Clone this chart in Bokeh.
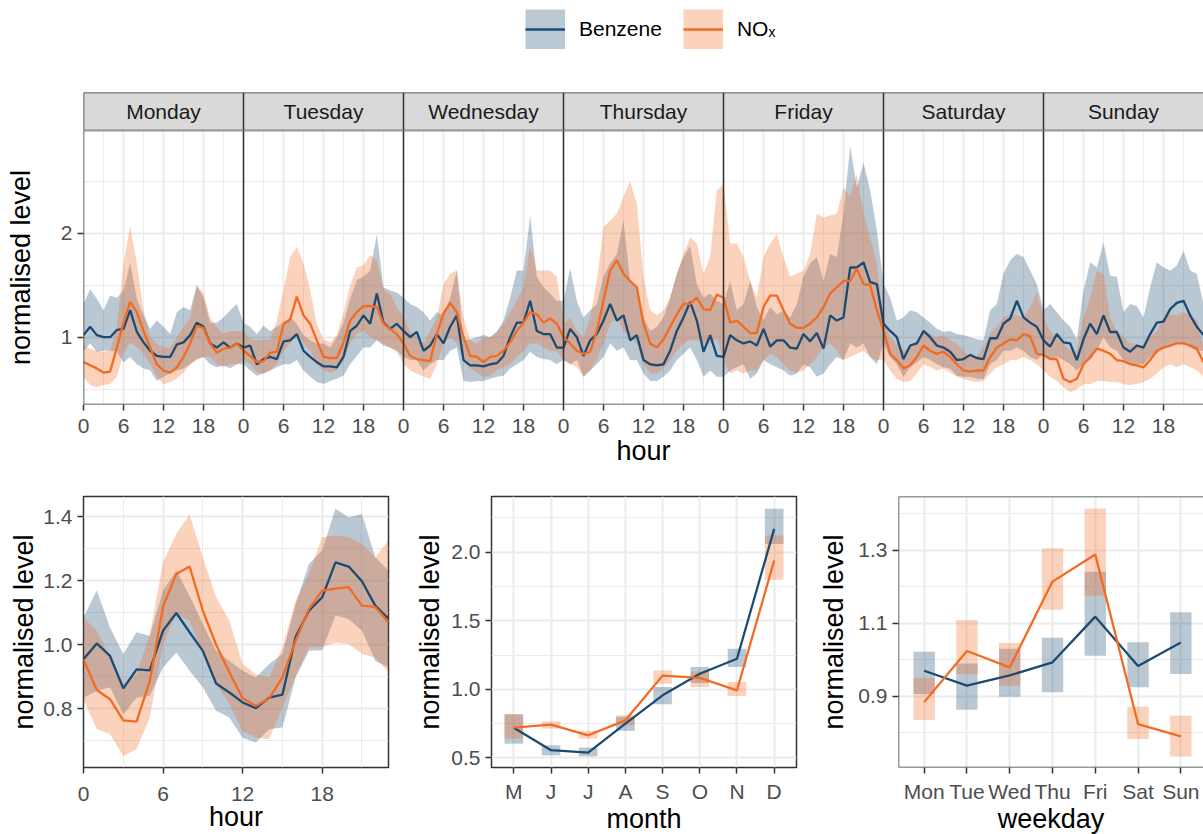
from bokeh.plotting import figure
from bokeh.layouts import column, row
from bokeh.models import Range1d, FixedTicker, Span, Legend, LegendItem, PrintfTickFormatter
from bokeh.embed import file_html
from bokeh.resources import INLINE
from bokeh.core.properties import value

FONT = "Liberation Sans"
BENZ = "#1B4A72"
NOX = "#F26B22"
BENZ_KEY = "#BBC9D5"
NOX_KEY = "#FBD3BD"
BORDER = "#333333"
ALPHA = 0.3

# ---------------- data ----------------
days = ["Monday", "Tuesday", "Wednesday", "Thursday", "Friday", "Saturday", "Sunday"]
hours = list(range(24))

benz_mean = [
    [1.02, 1.10, 1.02, 1.00, 1.00, 1.07, 1.08, 1.26, 1.05, 0.95, 0.87, 0.82, 0.81, 0.81, 0.93, 0.95, 1.02, 1.14, 1.10, 0.94, 0.90, 0.95, 0.90, 0.94],
    [0.90, 0.92, 0.74, 0.79, 0.81, 0.79, 0.96, 0.97, 1.03, 0.87, 0.81, 0.76, 0.72, 0.72, 0.71, 0.81, 1.06, 1.11, 1.21, 1.13, 1.42, 1.14, 1.08, 1.13],
    [1.06, 1.00, 1.05, 0.87, 0.92, 1.03, 0.94, 1.10, 1.21, 0.78, 0.73, 0.73, 0.72, 0.74, 0.75, 0.82, 1.00, 1.14, 1.14, 1.35, 1.06, 1.03, 1.03, 0.90],
    [0.90, 1.08, 1.00, 0.82, 0.97, 1.03, 1.16, 1.32, 1.16, 1.21, 0.97, 1.02, 0.78, 0.74, 0.73, 0.74, 0.87, 1.06, 1.19, 1.34, 1.16, 0.86, 1.02, 0.82],
    [0.81, 1.02, 0.97, 0.94, 0.96, 0.92, 1.08, 0.91, 0.97, 0.97, 0.90, 0.89, 1.03, 0.96, 1.04, 0.89, 1.21, 1.16, 1.19, 1.67, 1.67, 1.72, 1.53, 1.51],
    [1.13, 1.06, 1.00, 0.79, 0.92, 0.94, 1.06, 1.00, 0.92, 0.90, 0.86, 0.78, 0.79, 0.83, 0.80, 0.79, 0.99, 0.99, 1.13, 1.18, 1.35, 1.19, 1.14, 1.10],
    [0.97, 0.91, 1.03, 0.95, 0.94, 0.78, 0.98, 1.13, 1.03, 1.21, 1.05, 1.05, 0.90, 0.86, 0.92, 0.90, 1.03, 1.14, 1.15, 1.27, 1.33, 1.35, 1.21, 1.10],
]
benz_hi = [
    [1.32, 1.46, 1.37, 1.26, 1.40, 1.38, 1.45, 1.71, 1.37, 1.21, 1.08, 1.16, 1.10, 1.03, 1.24, 1.29, 1.26, 1.50, 1.38, 1.14, 1.14, 1.19, 1.26, 1.32],
    [1.14, 1.10, 1.03, 1.11, 1.06, 1.10, 1.14, 1.19, 1.13, 1.02, 0.97, 0.94, 0.94, 0.90, 1.00, 1.14, 1.37, 1.55, 1.58, 1.64, 1.99, 1.48, 1.45, 1.43],
    [1.38, 1.32, 1.29, 1.24, 1.16, 1.24, 1.21, 1.38, 1.64, 0.97, 0.98, 1.00, 1.02, 1.00, 1.05, 1.16, 1.38, 1.64, 1.64, 2.17, 1.58, 1.48, 1.42, 1.35],
    [1.35, 1.66, 1.35, 1.19, 1.26, 1.32, 1.58, 1.71, 1.80, 2.12, 1.54, 1.48, 1.19, 1.06, 1.10, 1.19, 1.38, 1.61, 1.77, 1.88, 1.51, 1.38, 1.42, 1.35],
    [1.32, 1.54, 1.26, 1.32, 1.54, 1.29, 1.16, 1.29, 1.22, 1.26, 1.19, 1.32, 1.58, 1.71, 1.77, 1.54, 1.80, 1.77, 2.19, 2.84, 2.44, 2.68, 2.41, 2.03],
    [1.51, 1.38, 1.16, 1.19, 1.26, 1.24, 1.19, 1.14, 1.08, 1.05, 1.06, 1.03, 1.02, 1.00, 0.98, 0.97, 1.26, 1.32, 1.61, 1.74, 1.80, 1.77, 1.64, 1.51],
    [1.26, 1.32, 1.24, 1.16, 1.10, 0.98, 1.45, 1.72, 1.67, 1.91, 1.59, 1.58, 1.24, 1.32, 1.30, 1.19, 1.48, 1.72, 1.67, 1.64, 1.69, 1.83, 1.64, 1.61],
]
benz_lo = [
    [0.87, 0.94, 0.86, 0.87, 0.87, 0.86, 0.76, 0.81, 0.74, 0.70, 0.68, 0.58, 0.62, 0.65, 0.68, 0.70, 0.74, 0.79, 0.81, 0.74, 0.71, 0.73, 0.70, 0.74],
    [0.74, 0.68, 0.63, 0.65, 0.68, 0.71, 0.74, 0.74, 0.78, 0.68, 0.62, 0.57, 0.55, 0.58, 0.60, 0.63, 0.74, 0.82, 0.90, 0.90, 0.97, 0.92, 0.90, 0.87],
    [0.81, 0.78, 0.78, 0.68, 0.74, 0.78, 0.78, 0.87, 0.90, 0.58, 0.57, 0.58, 0.58, 0.60, 0.62, 0.63, 0.70, 0.74, 0.78, 0.86, 0.81, 0.79, 0.78, 0.74],
    [0.78, 0.74, 0.78, 0.62, 0.68, 0.74, 0.81, 0.94, 0.87, 0.90, 0.78, 0.78, 0.65, 0.58, 0.58, 0.62, 0.68, 0.78, 0.84, 0.90, 0.78, 0.62, 0.68, 0.62],
    [0.62, 0.68, 0.71, 0.74, 0.60, 0.65, 0.78, 0.74, 0.71, 0.68, 0.63, 0.65, 0.74, 0.71, 0.62, 0.65, 0.74, 0.81, 0.78, 0.94, 0.90, 0.94, 0.81, 0.74],
    [0.94, 0.81, 0.74, 0.62, 0.71, 0.76, 0.81, 0.78, 0.74, 0.71, 0.70, 0.63, 0.62, 0.62, 0.60, 0.60, 0.74, 0.78, 0.87, 0.87, 0.90, 0.87, 0.81, 0.78],
    [0.84, 0.78, 0.81, 0.78, 0.74, 0.68, 0.74, 0.78, 0.87, 1.00, 0.90, 0.87, 0.78, 0.74, 0.74, 0.74, 0.81, 0.84, 0.90, 0.90, 0.94, 0.94, 0.90, 0.87],
]
nox_mean = [
    [0.76, 0.73, 0.70, 0.66, 0.67, 0.90, 1.14, 1.34, 1.24, 1.06, 0.90, 0.74, 0.68, 0.66, 0.71, 0.81, 0.94, 1.11, 1.09, 0.94, 0.85, 0.89, 0.90, 0.94],
    [0.87, 0.82, 0.76, 0.77, 0.85, 0.86, 1.13, 1.17, 1.39, 1.21, 1.13, 0.97, 0.81, 0.80, 0.80, 0.95, 1.16, 1.24, 1.30, 1.30, 1.29, 1.13, 1.08, 1.03],
    [0.94, 0.82, 0.79, 0.78, 0.77, 1.03, 1.23, 1.33, 1.24, 1.00, 0.82, 0.81, 0.76, 0.81, 0.82, 0.87, 0.95, 1.06, 1.14, 1.24, 1.22, 1.14, 1.18, 1.13],
    [1.00, 0.94, 0.87, 0.84, 0.86, 1.06, 1.35, 1.64, 1.74, 1.61, 1.54, 1.48, 1.13, 0.94, 0.90, 0.98, 1.10, 1.22, 1.32, 1.32, 1.38, 1.27, 1.26, 1.41],
    [1.38, 1.14, 1.16, 1.10, 1.04, 1.04, 1.29, 1.40, 1.40, 1.26, 1.13, 1.09, 1.09, 1.13, 1.19, 1.29, 1.42, 1.48, 1.54, 1.54, 1.66, 1.51, 1.50, 1.26],
    [1.06, 0.84, 0.78, 0.70, 0.73, 0.81, 0.92, 0.87, 0.84, 0.86, 0.81, 0.74, 0.68, 0.67, 0.68, 0.68, 0.81, 0.90, 0.94, 0.98, 0.97, 1.03, 1.01, 0.84],
    [0.83, 0.79, 0.79, 0.60, 0.57, 0.60, 0.74, 0.81, 0.89, 0.87, 0.84, 0.78, 0.77, 0.74, 0.73, 0.71, 0.78, 0.87, 0.90, 0.92, 0.94, 0.94, 0.92, 0.89],
]
nox_hi = [
    [0.92, 0.89, 0.87, 0.86, 0.87, 1.10, 1.71, 2.07, 1.71, 1.26, 1.00, 0.94, 0.90, 0.90, 1.00, 1.10, 1.19, 1.50, 1.42, 1.19, 1.10, 1.03, 1.06, 1.06],
    [1.06, 0.98, 0.97, 0.97, 0.98, 1.16, 1.45, 1.77, 1.87, 1.71, 1.45, 1.13, 0.98, 0.95, 1.02, 1.24, 1.50, 1.67, 1.69, 1.79, 1.74, 1.46, 1.42, 1.29],
    [1.19, 1.06, 1.00, 0.94, 1.06, 1.19, 1.51, 1.61, 1.64, 1.19, 0.97, 0.94, 1.00, 1.00, 1.06, 1.13, 1.24, 1.35, 1.48, 1.87, 1.64, 1.64, 1.64, 1.58],
    [1.13, 1.19, 1.06, 1.00, 1.19, 1.54, 2.06, 2.12, 2.19, 2.35, 2.50, 2.28, 1.58, 1.26, 1.21, 1.26, 1.38, 1.61, 1.80, 1.96, 1.90, 1.61, 1.77, 2.41],
    [2.47, 1.90, 1.90, 1.77, 1.54, 1.38, 1.77, 1.90, 1.99, 1.77, 1.58, 1.61, 1.64, 1.80, 2.19, 2.15, 2.17, 2.19, 2.44, 2.35, 2.57, 2.19, 1.96, 1.71],
    [1.19, 1.00, 0.94, 0.87, 0.90, 0.97, 1.06, 1.03, 1.00, 1.02, 0.97, 0.94, 0.87, 0.81, 0.82, 0.90, 1.03, 1.10, 1.19, 1.22, 1.21, 1.19, 1.29, 1.43],
    [1.19, 1.06, 1.00, 0.94, 0.87, 0.87, 1.19, 1.38, 1.64, 1.61, 1.19, 1.06, 1.00, 0.94, 0.94, 0.90, 1.00, 1.06, 1.19, 1.22, 1.21, 1.24, 1.21, 1.16],
]
nox_lo = [
    [0.62, 0.54, 0.52, 0.54, 0.55, 0.62, 0.85, 0.95, 0.90, 0.84, 0.74, 0.62, 0.55, 0.57, 0.60, 0.66, 0.74, 0.78, 0.81, 0.81, 0.74, 0.71, 0.74, 0.74],
    [0.78, 0.74, 0.66, 0.65, 0.68, 0.74, 0.87, 0.94, 1.03, 0.94, 0.87, 0.74, 0.68, 0.66, 0.68, 0.78, 0.94, 1.03, 1.06, 1.00, 0.97, 0.94, 0.90, 0.86],
    [0.74, 0.68, 0.65, 0.62, 0.60, 0.74, 0.94, 1.00, 0.94, 0.78, 0.70, 0.66, 0.62, 0.63, 0.68, 0.71, 0.74, 0.81, 0.87, 0.94, 0.94, 0.90, 0.87, 0.86],
    [0.78, 0.74, 0.71, 0.62, 0.68, 0.78, 0.94, 1.13, 1.19, 1.06, 1.00, 0.94, 0.74, 0.65, 0.65, 0.70, 0.78, 0.87, 0.94, 0.97, 0.97, 0.94, 0.94, 1.00],
    [0.78, 0.65, 0.68, 0.65, 0.68, 0.68, 0.78, 0.84, 0.81, 0.74, 0.68, 0.66, 0.68, 0.74, 0.81, 0.90, 0.94, 0.87, 0.78, 0.81, 0.84, 0.87, 0.81, 0.78],
    [0.78, 0.68, 0.60, 0.57, 0.58, 0.65, 0.74, 0.71, 0.68, 0.70, 0.66, 0.62, 0.60, 0.58, 0.57, 0.58, 0.65, 0.71, 0.74, 0.78, 0.78, 0.81, 0.78, 0.74],
    [0.68, 0.62, 0.58, 0.52, 0.47, 0.50, 0.55, 0.55, 0.58, 0.58, 0.57, 0.57, 0.55, 0.54, 0.55, 0.57, 0.60, 0.65, 0.71, 0.74, 0.71, 0.74, 0.71, 0.68],
]

# hour of day (all days)
benz_hour = [0.955, 1.004, 0.965, 0.864, 0.923, 0.920, 1.044, 1.099, 1.039, 0.981, 0.879, 0.851, 0.820, 0.802, 0.835, 0.844, 1.025, 1.106, 1.148, 1.257, 1.244, 1.198, 1.122, 1.081]
benz_hour_hi = [1.085, 1.169, 1.054, 0.971, 1.039, 1.028, 1.169, 1.231, 1.153, 1.065, 0.981, 0.950, 0.919, 0.898, 0.940, 0.971, 1.127, 1.252, 1.294, 1.424, 1.398, 1.408, 1.273, 1.231]
benz_hour_lo = [0.835, 0.856, 0.867, 0.783, 0.835, 0.841, 0.929, 0.976, 0.919, 0.867, 0.794, 0.773, 0.710, 0.695, 0.736, 0.742, 0.898, 0.981, 0.983, 1.091, 1.080, 1.044, 0.950, 0.929]
nox_hour = [0.955, 0.859, 0.830, 0.764, 0.760, 0.887, 1.119, 1.221, 1.244, 1.106, 1.000, 0.914, 0.833, 0.809, 0.833, 0.898, 1.013, 1.112, 1.169, 1.175, 1.180, 1.122, 1.118, 1.070]
nox_hour_hi = [1.085, 1.044, 0.960, 0.877, 0.908, 1.033, 1.257, 1.346, 1.406, 1.273, 1.148, 1.075, 0.940, 0.908, 0.898, 0.992, 1.137, 1.221, 1.335, 1.341, 1.335, 1.315, 1.273, 1.325]
nox_hour_lo = [0.830, 0.736, 0.721, 0.653, 0.674, 0.773, 1.002, 1.096, 1.075, 0.971, 0.877, 0.815, 0.731, 0.710, 0.705, 0.804, 0.903, 0.992, 0.992, 1.007, 1.002, 0.971, 0.960, 0.914]

# month
months = ["M", "J", "J", "A", "S", "O", "N", "D"]
benz_month = [0.720, 0.556, 0.539, 0.750, 0.956, 1.114, 1.223, 2.170]
benz_month_lo = [0.604, 0.519, 0.512, 0.697, 0.891, 1.046, 1.163, 2.060]
benz_month_hi = [0.818, 0.592, 0.575, 0.799, 1.017, 1.163, 1.296, 2.316]
nox_month = [0.721, 0.743, 0.665, 0.774, 1.100, 1.083, 0.993, 1.939]
nox_month_lo = [0.641, 0.714, 0.641, 0.738, 1.041, 1.017, 0.951, 1.799]
nox_month_hi = [0.818, 0.767, 0.697, 0.811, 1.138, 1.131, 1.053, 2.121]

# weekday
weekdays = ["Mon", "Tue", "Wed", "Thu", "Fri", "Sat", "Sun"]
benz_wd = [0.970, 0.929, 0.957, 0.993, 1.118, 0.983, 1.047]
benz_wd_lo = [0.906, 0.863, 0.899, 0.911, 1.011, 0.925, 0.961]
benz_wd_hi = [1.022, 0.990, 1.030, 1.060, 1.241, 1.048, 1.130]
nox_wd = [0.884, 1.024, 0.979, 1.214, 1.288, 0.824, 0.790]
nox_wd_lo = [0.835, 0.961, 0.929, 1.137, 1.175, 0.783, 0.735]
nox_wd_hi = [0.950, 1.109, 1.046, 1.305, 1.414, 0.872, 0.847]


# ---------------- helpers ----------------
def style(p, xlabel, ylabel, ylab_standoff, xlab_standoff, xtick_standoff):
    p.outline_line_color = BORDER
    p.outline_line_width = 1.5
    p.background_fill_color = "white"
    p.border_fill_color = "white"
    p.grid.grid_line_color = "#EBEBEB"
    p.grid.grid_line_width = 2
    p.grid.minor_grid_line_color = "#EBEBEB"
    p.grid.minor_grid_line_width = 1
    for ax in p.axis:
        ax.axis_line_color = None
        ax.major_tick_line_color = BORDER
        ax.major_tick_line_width = 1.5
        ax.major_tick_in = 0
        ax.major_tick_out = 6
        ax.minor_tick_line_color = None
        ax.major_label_text_font = FONT
        ax.major_label_text_font_size = "21px"
        ax.major_label_text_color = "#4D4D4D"
        ax.major_label_standoff = 5
        ax.axis_label_text_font = FONT
        ax.axis_label_text_font_size = "27px"
        ax.axis_label_text_font_style = "normal"
        ax.axis_label_text_color = "black"
    p.xaxis.axis_label = xlabel
    p.yaxis.axis_label = ylabel
    p.yaxis.axis_label_standoff = ylab_standoff
    p.xaxis.axis_label_standoff = xlab_standoff
    p.xaxis.major_label_standoff = xtick_standoff


def open_right(p, xr, yr):
    """Panel border on left, top and bottom only (the panel runs off the right edge)."""
    p.outline_line_color = None
    p.add_layout(Span(location=xr.start, dimension="height", line_color=BORDER, line_width=1.5))
    p.add_layout(Span(location=yr.start, dimension="width", line_color=BORDER, line_width=1.5))
    p.add_layout(Span(location=yr.end, dimension="width", line_color=BORDER, line_width=1.5))


# ---------------- legend ----------------
pl = figure(width=1203, height=92, x_range=Range1d(0, 1), y_range=Range1d(0, 1),
            x_axis_location=None, y_axis_location=None, min_border=0,
            toolbar_location=None, output_backend="svg", outline_line_color=None)
pl.grid.visible = False
# off-frame key renderers (only used to draw the legend keys)
rb_box = pl.quad(left=[5], right=[6], top=[5], bottom=[6], fill_color=BENZ_KEY,
                 line_color=BENZ_KEY, line_width=8, line_join="miter")
rb_line = pl.line(x=[5, 6], y=[5, 5], line_color=BENZ, line_width=2.5)
rn_box = pl.quad(left=[5], right=[6], top=[5], bottom=[6], fill_color=NOX_KEY,
                 line_color=NOX_KEY, line_width=8, line_join="miter")
rn_line = pl.line(x=[5, 6], y=[5, 5], line_color=NOX, line_width=2.5)
legend = Legend(items=[LegendItem(label="Benzene", renderers=[rb_box, rb_line]),
                       LegendItem(label="NO\u2093", renderers=[rn_box, rn_line])],
                orientation="horizontal", location=(442, 43),
                glyph_width=40, glyph_height=40, label_standoff=14, spacing=21,
                padding=0, margin=0, border_line_color=None, background_fill_alpha=0,
                label_text_font=FONT, label_text_font_size="21px", label_text_color="black")
pl.add_layout(legend)

# ---------------- strips ----------------
ndays = len(days)
xr_top = Range1d(0, 24 * ndays)
yr_strip = Range1d(0, 1)
ps = figure(width=1203, height=38, x_range=xr_top, y_range=yr_strip,
            x_axis_location=None, y_axis_location=None, min_border_left=83,
            min_border_right=0, min_border_top=0, min_border_bottom=0,
            toolbar_location=None, output_backend="svg")
ps.grid.visible = False
starts = [i * 24 for i in range(ndays)]
ps.quad(left=starts, right=[s + 24 for s in starts], bottom=[0] * ndays, top=[1] * ndays,
        fill_color="#D9D9D9", line_color=None)
ps.text(x=[s + 12 for s in starts], y=[0.5] * ndays, text=days, text_align="center",
        text_baseline="middle", text_font=value(FONT), text_font_size="21px", text_color="#1A1A1A")
open_right(ps, xr_top, yr_strip)
for s in starts[1:]:
    ps.add_layout(Span(location=s, dimension="height", line_color=BORDER, line_width=1.5))

# ---------------- day x hour ----------------
xs, bm, bh, bl, nm, nh, nl = [], [], [], [], [], [], []
for d in range(ndays):
    for h in hours:
        xs.append(d * 24 + h)
        bm.append(benz_mean[d][h]); bh.append(benz_hi[d][h]); bl.append(benz_lo[d][h])
        nm.append(nox_mean[d][h]); nh.append(nox_hi[d][h]); nl.append(nox_lo[d][h])
# cyclic wrap to the end of the last panel
xs.append(24 * ndays)
bm.append(benz_mean[0][0]); bh.append(benz_hi[0][0]); bl.append(benz_lo[0][0])
nm.append(nox_mean[0][0]); nh.append(nox_hi[0][0]); nl.append(nox_lo[0][0])

yr_top = Range1d(0.353, 2.987)
ptop = figure(frame_width=1120, frame_height=274, x_range=xr_top, y_range=yr_top,
              min_border_left=83, min_border_right=0, min_border_top=0, min_border_bottom=76,
              toolbar_location=None, output_backend="svg")
major_x = [d * 24 + h for d in range(ndays) for h in (0, 6, 12, 18)]
minor_x = [d * 24 + h for d in range(ndays) for h in (3, 9, 15, 21)]
tk = FixedTicker(ticks=major_x, minor_ticks=minor_x)
ptop.xaxis.ticker = tk
ptop.xgrid.ticker = tk
ptop.xaxis.major_label_overrides = {t: str(t % 24) for t in major_x}
yt = FixedTicker(ticks=[1, 2], minor_ticks=[0.5, 1.5, 2.5])
ptop.yaxis.ticker = yt
ptop.ygrid.ticker = yt
style(ptop, "hour", "normalised level", 22, 0, 8)
ptop.varea(x=xs, y1=bl, y2=bh, fill_color=BENZ, fill_alpha=ALPHA)
ptop.varea(x=xs, y1=nl, y2=nh, fill_color=NOX, fill_alpha=ALPHA)
ptop.line(xs, bm, line_color=BENZ, line_width=2.3)
ptop.line(xs, nm, line_color=NOX, line_width=2.3)
for s in starts[1:]:
    ptop.add_layout(Span(location=s, dimension="height", line_color=BORDER, line_width=1.5))
open_right(ptop, xr_top, yr_top)

# ---------------- bottom panels ----------------
def bottom_fig(left, right, xr, yr):
    return figure(frame_width=305, frame_height=271, x_range=xr, y_range=yr,
                  min_border_left=left, min_border_right=right, min_border_top=16,
                  min_border_bottom=67, toolbar_location=None, output_backend="svg")

p1 = bottom_fig(83, 12, Range1d(0, 23), Range1d(0.617, 1.4625))
t = FixedTicker(ticks=[0, 6, 12, 18], minor_ticks=[3, 9, 15, 21])
p1.xaxis.ticker = t; p1.xgrid.ticker = t
t = FixedTicker(ticks=[0.8, 1.0, 1.2, 1.4], minor_ticks=[0.7, 0.9, 1.1, 1.3])
p1.yaxis.ticker = t; p1.ygrid.ticker = t
p1.yaxis.formatter = PrintfTickFormatter(format="%.1f")
style(p1, "hour", "normalised level", 1, -2, 13)
p1.varea(x=hours, y1=benz_hour_lo, y2=benz_hour_hi, fill_color=BENZ, fill_alpha=ALPHA)
p1.varea(x=hours, y1=nox_hour_lo, y2=nox_hour_hi, fill_color=NOX, fill_alpha=ALPHA)
p1.line(hours, benz_hour, line_color=BENZ, line_width=2.3)
p1.line(hours, nox_hour, line_color=NOX, line_width=2.3)

mx = list(range(1, len(months) + 1))
p2 = bottom_fig(91, 12, Range1d(0.4, 8.6), Range1d(0.43, 2.406))
t = FixedTicker(ticks=mx, minor_ticks=[])
p2.xaxis.ticker = t; p2.xgrid.ticker = t
p2.xaxis.major_label_overrides = {i: m for i, m in zip(mx, months)}
t = FixedTicker(ticks=[0.5, 1.0, 1.5, 2.0], minor_ticks=[0.75, 1.25, 1.75, 2.25])
p2.yaxis.ticker = t; p2.ygrid.ticker = t
p2.yaxis.formatter = PrintfTickFormatter(format="%.1f")
style(p2, "month", "normalised level", 3, -2, 6)
p2.vbar(x=mx, width=0.5, bottom=benz_month_lo, top=benz_month_hi, fill_color=BENZ, fill_alpha=ALPHA, line_color=None)
p2.vbar(x=mx, width=0.5, bottom=nox_month_lo, top=nox_month_hi, fill_color=NOX, fill_alpha=ALPHA, line_color=None)
p2.line(mx, benz_month, line_color=BENZ, line_width=2.3)
p2.line(mx, nox_month, line_color=NOX, line_width=2.3)

wx = list(range(1, len(weekdays) + 1))
xr3, yr3 = Range1d(0.4, 7.53), Range1d(0.705, 1.447)
p3 = bottom_fig(90, 0, xr3, yr3)
t = FixedTicker(ticks=wx, minor_ticks=[])
p3.xaxis.ticker = t; p3.xgrid.ticker = t
p3.xaxis.major_label_overrides = {i: w for i, w in zip(wx, weekdays)}
t = FixedTicker(ticks=[0.9, 1.1, 1.3], minor_ticks=[0.8, 1.0, 1.2, 1.4])
p3.yaxis.ticker = t; p3.ygrid.ticker = t
p3.yaxis.formatter = PrintfTickFormatter(format="%.1f")
style(p3, "weekday", "normalised level", 6, -2, 6)
p3.vbar(x=wx, width=0.5, bottom=benz_wd_lo, top=benz_wd_hi, fill_color=BENZ, fill_alpha=ALPHA, line_color=None)
p3.vbar(x=wx, width=0.5, bottom=nox_wd_lo, top=nox_wd_hi, fill_color=NOX, fill_alpha=ALPHA, line_color=None)
p3.line(wx, benz_wd, line_color=BENZ, line_width=2.3)
p3.line(wx, nox_wd, line_color=NOX, line_width=2.3)
open_right(p3, xr3, yr3)

layout = column(pl, ps, ptop, row(p1, p2, p3, spacing=0), spacing=0)
open("out.html", "w").write(file_html(layout, INLINE))
